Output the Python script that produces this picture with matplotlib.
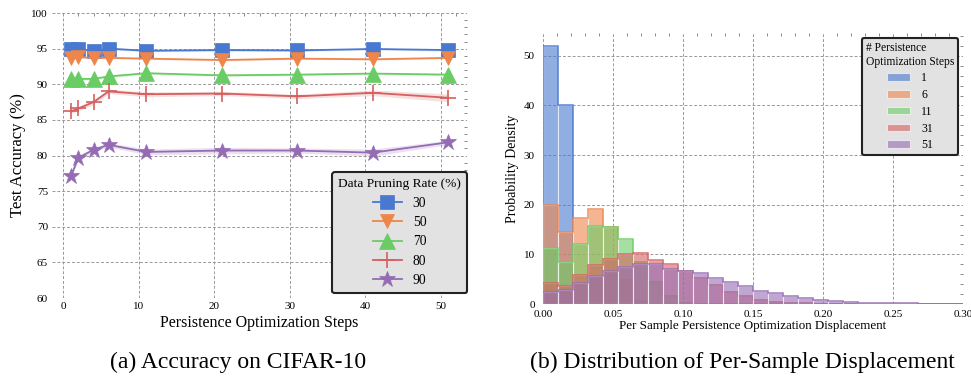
import numpy as np
import matplotlib
matplotlib.use("Agg")
import matplotlib.pyplot as plt
from matplotlib.ticker import MultipleLocator

plt.rcParams["font.family"] = ["Liberation Serif", "DejaVu Serif"]
plt.rcParams["mathtext.fontset"] = "stix"

# ---- Accuracy vs. persistence optimization steps ----
steps = [1, 2, 4, 6, 11, 21, 31, 41, 51]
rates = ["30", "50", "70", "80", "90"]
acc_30 = [94.9, 95.0, 94.6, 95.0, 94.7, 94.8, 94.75, 94.95, 94.8]
acc_50 = [93.7, 93.8, 93.7, 93.7, 93.6, 93.4, 93.6, 93.5, 93.7]
acc_70 = [90.7, 90.75, 90.75, 91.1, 91.55, 91.25, 91.35, 91.5, 91.35]
acc_80 = [86.2, 86.6, 87.5, 89.0, 88.6, 88.7, 88.3, 88.8, 88.1]
acc_90 = [77.1, 79.7, 80.8, 81.5, 80.5, 80.7, 80.7, 80.4, 81.85]
std_30 = [0.15, 0.15, 0.15, 0.15, 0.15, 0.15, 0.15, 0.1, 0.15]
std_50 = [0.1, 0.1, 0.1, 0.1, 0.1, 0.15, 0.1, 0.1, 0.1]
std_70 = [0.15, 0.15, 0.15, 0.2, 0.15, 0.15, 0.15, 0.1, 0.15]
std_80 = [0.3, 0.3, 0.35, 0.3, 0.35, 0.3, 0.3, 0.4, 0.55]
std_90 = [0.3, 0.35, 0.3, 0.3, 0.4, 0.45, 0.35, 0.5, 0.3]

# ---- Displacement histograms (density per bin) ----
bin_edges = np.linspace(0.0, 0.30, 29)
hist_labels = ["1", "6", "11", "31", "51"]
dens_1 = [52.0, 40.0] + [0.0] * 26
dens_6 = [20.0, 14.5, 17.3, 19.1, 15.5, 4.9, 0.6, 0.1] + [0.0] * 20
dens_11 = [11.3, 8.5, 12.1, 15.7, 15.6, 13.0, 8.5, 4.5, 1.6, 0.3] + [0.0] * 18
dens_31 = [4.2, 3.6, 5.8, 7.8, 9.0, 10.0, 10.3, 8.8, 8.0, 6.7, 5.2, 3.9, 2.5,
           1.6, 0.9, 0.5, 0.3, 0.2, 0.1, 0.05] + [0.0] * 8
dens_51 = [2.5, 2.8, 4.3, 5.6, 6.7, 7.4, 8.0, 8.0, 7.0, 6.7, 6.2, 5.2, 4.4,
           3.7, 2.7, 2.3, 1.7, 1.3, 0.9, 0.6, 0.4, 0.3, 0.25, 0.2, 0.15,
           0.1, 0.08, 0.05]

colors = ["#4878d0", "#ee854a", "#6acc64", "#d65f5f", "#956cb4"]
markers = ["s", "v", "^", "+", "*"]
msizes = [10, 10, 11, 12, 12]

grid_kw = dict(color="#999999", linestyle=(0, (3, 2)), linewidth=0.7)


def style_axes(ax):
    for s in ax.spines.values():
        s.set_visible(False)
    ax.grid(True, which="major", **grid_kw)
    ax.set_axisbelow(True)
    ax.tick_params(which="both", direction="in", top=True, right=True,
                   bottom=False, left=False, color="#888888",
                   labelsize=8, pad=3)
    ax.tick_params(which="major", length=0)
    ax.tick_params(which="minor", length=2.5, width=0.7)
    ax.tick_params(which="minor", bottom=False, left=False)


def style_legend(leg):
    fr = leg.get_frame()
    fr.set_facecolor("#e2e2e2")
    fr.set_edgecolor("#222222")
    fr.set_linewidth(1.5)
    fr.set_alpha(1)


fig = plt.figure(figsize=(9.71, 3.77), dpi=100)

# Left panel
ax1 = fig.add_axes([0.0536, 0.2095, 0.4274, 0.756])
series = [acc_30, acc_50, acc_70, acc_80, acc_90]
stds = [std_30, std_50, std_70, std_80, std_90]
for vals, sd, c, m, ms, lab in zip(series, stds, colors, markers, msizes, rates):
    v = np.array(vals)
    s = np.array(sd)
    ax1.fill_between(steps, v - s, v + s, color=c, alpha=0.2, linewidth=0)
    ax1.plot(steps, v, color=c, marker=m, markersize=ms, linewidth=1.3,
             markeredgewidth=1.2 if m == "+" else 0.5,
             markeredgecolor=c, label=lab)
ax1.set_xlim(-1.5, 53.5)
ax1.set_ylim(60, 100)
ax1.xaxis.set_major_locator(MultipleLocator(10))
ax1.xaxis.set_minor_locator(MultipleLocator(2))
ax1.yaxis.set_major_locator(MultipleLocator(5))
ax1.yaxis.set_minor_locator(MultipleLocator(1))
style_axes(ax1)
ax1.set_xlabel("Persistence Optimization Steps", fontsize=11.5, labelpad=3)
ax1.set_ylabel("Test Accuracy (%)", fontsize=12, labelpad=4)
leg1 = ax1.legend(title="Data Pruning Rate (%)", loc="lower right",
                  fontsize=9.8, title_fontsize=9.6, frameon=True, fancybox=True,
                  borderaxespad=0.35, handlelength=2.1, labelspacing=0.47,
                  borderpad=0.45, bbox_to_anchor=(1.012, 0.0))
style_legend(leg1)

# Right panel
ax2 = fig.add_axes([0.5592, 0.1936, 0.4325, 0.7188])
widths = np.diff(bin_edges)
hists = [dens_1, dens_6, dens_11, dens_31, dens_51]
for d, c, lab in zip(hists, colors, hist_labels):
    ax2.bar(bin_edges[:-1], d, width=widths, align="edge", color=c,
            alpha=0.6, edgecolor=(1, 1, 1, 0.6), linewidth=0.8, label=lab)
    ax2.stairs(d, bin_edges, color=c, linewidth=1.1, alpha=0.9)
ax2.set_xlim(0, 0.30)
ax2.set_ylim(0, 54.6)
ax2.xaxis.set_major_locator(MultipleLocator(0.05))
ax2.xaxis.set_minor_locator(MultipleLocator(0.01))
ax2.yaxis.set_major_locator(MultipleLocator(10))
ax2.yaxis.set_minor_locator(MultipleLocator(2))
ax2.xaxis.set_major_formatter(plt.FormatStrFormatter("%.2f"))
style_axes(ax2)
ax2.tick_params(axis="x", pad=4)
ax2.tick_params(axis="y", pad=6)
ax2.set_xlabel("Per Sample Persistence Optimization Displacement",
               fontsize=9.4, labelpad=1)
ax2.set_ylabel("Probability Density", fontsize=10, labelpad=3)
leg2 = ax2.legend(title="# Persistence\nOptimization Steps", loc="upper right",
                  fontsize=8.5, title_fontsize=8.3, frameon=True, fancybox=True,
                  borderaxespad=0.4, handlelength=2.0, handleheight=0.6,
                  labelspacing=0.4, borderpad=0.35, handletextpad=0.9)
leg2.get_title().set_multialignment("left")
style_legend(leg2)
for h in leg2.legend_handles:
    h.set_edgecolor((1, 1, 1, 0.6))

fig.text(0.245, 0.04, "(a) Accuracy on CIFAR-10", fontsize=17,
         ha="center", va="center")
fig.text(0.765, 0.04, "(b) Distribution of Per-Sample Displacement",
         fontsize=17, ha="center", va="center")

fig.savefig("out.png", dpi=100)
